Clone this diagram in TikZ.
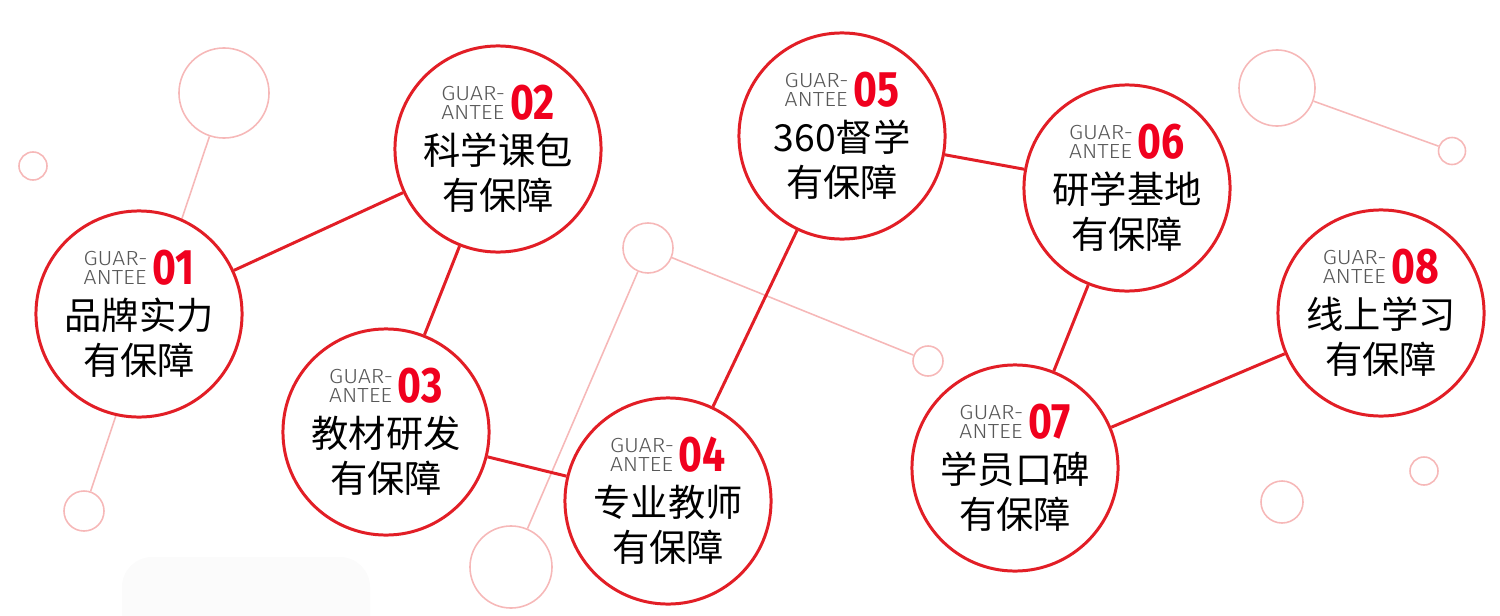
\documentclass[tikz,border=0pt]{standalone}
\usepackage{fontspec}
\usepackage{xcolor}
\usepackage{tikz}
\usetikzlibrary{backgrounds}
\newfontfamily\cjk{Noto Sans CJK SC}
\newfontfamily\numfont[FakeStretch=0.82]{Fira Sans}
\newfontfamily\tagfont[FakeStretch=1.12]{Fira Sans Light}
\definecolor{ringred}{RGB}{226,30,38}
\definecolor{numred}{RGB}{240,0,30}
\definecolor{dotpink}{RGB}{246,184,184}
\definecolor{tagtext}{RGB}{88,88,88}
\definecolor{smear}{RGB}{251,251,251}
\newcommand{\gtag}[1]{{\tagfont\fontsize{5.8}{5.2}\selectfont\color{tagtext}%
  \begin{tabular}[b]{@{}l@{}}GUAR-\\ANTEE\end{tabular}}\hspace{1.4pt}%
  {\numfont\bfseries\fontsize{14.2}{14}\selectfont\color{numred}#1}}

\begin{document}
\begin{tikzpicture}[x=0.01cm, y=-0.01cm,
   guar/.style={draw=ringred, line width=0.85pt, fill=white, circle,
                minimum size=2.06cm, inner sep=0pt, align=center,
                font=\cjk\fontsize{10.6}{12.8}\selectfont},
   dot/.style={draw=dotpink, line width=0.45pt, circle, inner sep=0pt},
   link/.style={draw=ringred, line width=0.85pt},
   thread/.style={draw=dotpink, line width=0.45pt}]
  \useasboundingbox (0,0) rectangle (1500,615);
  \fill[smear, rounded corners=0.3cm] (122,557) rectangle (370,660);
  % pink dots
  \node[dot, minimum size=0.90cm] (pa) at (224,93) {};
  \node[dot, minimum size=0.28cm] (pb) at (33,166) {};
  \node[dot, minimum size=0.40cm] (pc) at (84,511) {};
  \node[dot, minimum size=0.50cm] (pd) at (648,248) {};
  \node[dot, minimum size=0.30cm] (pe) at (928,361) {};
  \node[dot, minimum size=0.82cm] (pf) at (511,567) {};
  \node[dot, minimum size=0.76cm] (pg) at (1277,88) {};
  \node[dot, minimum size=0.27cm] (ph) at (1452,151) {};
  \node[dot, minimum size=0.28cm] (pi) at (1424,471) {};
  \node[dot, minimum size=0.42cm] (pj) at (1282,502) {};
  % guarantee circles
  \node[guar] (g1) at (139,314) {\gtag{01}\\品牌实力\\有保障};
  \node[guar] (g2) at (498,149) {\gtag{02}\\科学课包\\有保障};
  \node[guar] (g3) at (386,432) {\gtag{03}\\教材研发\\有保障};
  \node[guar] (g4) at (668,501) {\gtag{04}\\专业教师\\有保障};
  \node[guar] (g5) at (842,136) {\gtag{05}\\360督学\\有保障};
  \node[guar] (g6) at (1127,188) {\gtag{06}\\研学基地\\有保障};
  \node[guar] (g7) at (1015,468) {\gtag{07}\\学员口碑\\有保障};
  \node[guar] (g8) at (1381,313) {\gtag{08}\\线上学习\\有保障};
  \begin{scope}[on background layer]
    \draw[thread] (pa) -- (pc);
    \draw[thread] (pd) -- (pe);
    \draw[thread] (pd) -- (pf);
    \draw[thread] (pg) -- (ph);
  \end{scope}
  \draw[link] (g1) -- (g2) -- (g3) -- (g4) -- (g5) -- (g6) -- (g7) -- (g8);
\end{tikzpicture}
\end{document}
